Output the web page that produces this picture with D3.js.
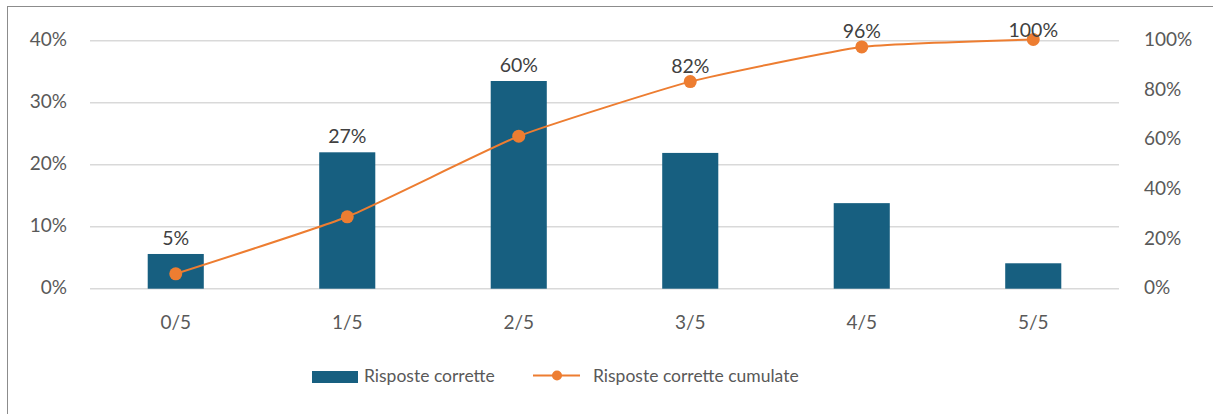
<!DOCTYPE html>
<html>
<head>
<meta charset="utf-8">
<script src="https://cdn.jsdelivr.net/npm/d3@7"></script>
<style>
  html, body { margin: 0; padding: 0; background: #fff; }
  svg { display: block; font-family: Lato, "Open Sans", sans-serif; }
</style>
</head>
<body>
<svg id="chart" width="1213" height="414"></svg>
<script>
// ---- data ----
const categories = ["0/5", "1/5", "2/5", "3/5", "4/5", "5/5"];
const barValues = [5.6, 22.0, 33.5, 21.9, 13.8, 4.1];          // Risposte corrette (%)
const cumValues = [6.0, 29.0, 61.5, 83.5, 97.5, 100.5];        // Risposte corrette cumulate (%)
const cumLabels = ["5%", "27%", "60%", "82%", "96%", "100%"];
const leftTicks = [0, 10, 20, 30, 40];
const rightTicks = [0, 20, 40, 60, 80, 100];
const seriesNames = ["Risposte corrette", "Risposte corrette cumulate"];

// ---- layout ----
const svg = d3.select("#chart");
const plot = { left: 90, right: 1119, top: 40.7, bottom: 288.7 };
const barColor = "#175f80";
const lineColor = "#ed7d31";
const tickColor = "#595959";
const labelColor = "#404040";

// frame
svg.append("rect")
  .attr("x", 7.5).attr("y", 6.5)
  .attr("width", 1230).attr("height", 430)
  .attr("fill", "none").attr("stroke", "#8c8c8c").attr("stroke-width", 1);

const x = d3.scaleBand().domain(categories)
  .range([plot.left, plot.right])
  .paddingInner(0.673).paddingOuter(0.3365);
const yL = d3.scaleLinear().domain([0, 40]).range([plot.bottom, plot.top]);
const yR = d3.scaleLinear().domain([0, 100]).range([plot.bottom, plot.top]);
const cx = c => x(c) + x.bandwidth() / 2;

// gridlines
svg.append("g").selectAll("line").data(leftTicks).join("line")
  .attr("x1", plot.left).attr("x2", plot.right)
  .attr("y1", d => yL(d)).attr("y2", d => yL(d))
  .attr("stroke", "#d9d9d9").attr("stroke-width", 1.5);

// left axis
const axL = svg.append("g").attr("transform", `translate(${plot.left - 23},-1.5)`)
  .call(d3.axisLeft(yL).tickValues(leftTicks).tickFormat(d => d + "%").tickSize(0).tickPadding(0));
axL.select(".domain").remove();
axL.selectAll("text").attr("fill", tickColor).style("font-size", "19px").style("font-family", "Lato, sans-serif");

// right axis
const axR = svg.append("g").attr("transform", `translate(1144,-1)`)
  .call(d3.axisRight(yR).tickValues(rightTicks).tickFormat(d => d + "%").tickSize(0).tickPadding(0));
axR.select(".domain").remove();
axR.selectAll("text").attr("fill", tickColor).style("font-size", "19px").style("font-family", "Lato, sans-serif");

// bottom axis
const axB = svg.append("g").attr("transform", `translate(0,${plot.bottom})`)
  .call(d3.axisBottom(x).tickSize(0).tickPadding(27));
axB.select(".domain").remove();
axB.selectAll("text").attr("fill", tickColor).style("font-size", "19px").style("font-family", "Lato, sans-serif");

// bars
svg.append("g").selectAll("rect").data(categories).join("rect")
  .attr("x", c => x(c))
  .attr("y", (c, i) => yL(barValues[i]))
  .attr("width", x.bandwidth())
  .attr("height", (c, i) => yL(0) - yL(barValues[i]))
  .attr("fill", barColor);

// cumulative line
const pts = categories.map((c, i) => [cx(c), yR(cumValues[i])]);
svg.append("path")
  .attr("d", d3.line().curve(d3.curveCardinal.tension(0.55))(pts))
  .attr("fill", "none").attr("stroke", lineColor).attr("stroke-width", 2);
svg.append("g").selectAll("circle").data(pts).join("circle")
  .attr("cx", d => d[0]).attr("cy", d => d[1]).attr("r", 6.5)
  .attr("fill", lineColor);

// data labels (above the higher of bar / point)
svg.append("g").selectAll("text").data(categories).join("text")
  .attr("x", c => cx(c))
  .attr("y", (c, i) => Math.max(36.5, Math.min(yL(barValues[i]), yR(cumValues[i])) - 9))
  .attr("text-anchor", "middle")
  .attr("fill", labelColor)
  .style("font-size", "19.5px")
  .text((c, i) => cumLabels[i]);

// legend
const lg = svg.append("g");
lg.append("rect").attr("x", 312).attr("y", 371).attr("width", 46).attr("height", 12).attr("fill", barColor);
lg.append("text").attr("x", 364).attr("y", 381.5).attr("fill", tickColor).style("font-size", "17.5px").text(seriesNames[0]);
lg.append("line").attr("x1", 533).attr("x2", 580).attr("y1", 375.5).attr("y2", 375.5)
  .attr("stroke", lineColor).attr("stroke-width", 2);
lg.append("circle").attr("cx", 557).attr("cy", 375.5).attr("r", 5).attr("fill", lineColor);
lg.append("text").attr("x", 593).attr("y", 381.5).attr("fill", tickColor).style("font-size", "17.5px").text(seriesNames[1]);
</script>
</body>
</html>
